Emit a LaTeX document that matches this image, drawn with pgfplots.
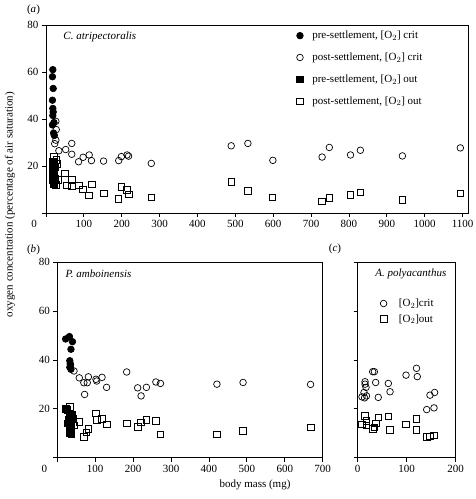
\documentclass[border=0pt]{standalone}
\usepackage{fontspec}
\setmainfont{Liberation Serif}
\usepackage{pgfplots}
\pgfplotsset{compat=1.18}
\pgfplotsset{
  base/.style={
    scale only axis,
    xmin=0, ymin=0, ymax=80,
    axis line style={line width=0.8pt},
    tick style={black, line width=0.8pt},
    major tick length=4pt,
    tick align=outside,
    tick pos=left,
    ytick={0,20,40,60,80},
    /pgf/number format/assume math mode=true,
    /pgf/number format/1000 sep={},
    tick label style={font=\fontsize{11}{13}\selectfont},
    every axis plot/.append style={only marks, mark size=3.3pt, line width=0.7pt},
    clip=false,
  },
  fc/.style={mark=*, mark options={fill=black, draw=black}},
  oc/.style={mark=o, mark options={draw=black}},
  fs/.style={mark=square*, mark options={fill=black, draw=black}},
  os/.style={mark=square, mark options={draw=black}},
}
\begin{document}
\begin{tikzpicture}[x=1pt,y=1pt]
\useasboundingbox (0,0) rectangle (475,499);
% panel (a)
\begin{axis}[base,
  at={(46pt,286pt)}, anchor=south west,
  width=422.3pt, height=188pt,
  xmax=1115,
  xtick={100,200,...,1100},
  yticklabels={,20,40,60,80},
  extra x ticks={0}, extra x tick labels={0},
  extra x tick style={tick label style={xshift=-12pt}},
  legend style={at={(0.586,0.99)}, anchor=north west, draw=none, fill=none,
    font=\fontsize{11}{13}\selectfont, row sep=8.7pt, column sep=7pt, legend cell align=left},
]
\addplot[fc] coordinates {(18,61)(17,58)(19,53)(17,48)(18,44.5)(19,43)(18,41.5)(21,38.5)(17,37.5)(20,34)(22,33)};
\addlegendentry{pre-settlement, [O$_2$] crit}
\addplot[oc] coordinates {(26,39)(27,35.5)(26,31)(23,29.5)(34,26.5)(52,27)(68,29.6)(68,25)(86,21.8)(98,23.7)(114,24.7)(120,22.3)(152,22.1)(192,22.3)(199,24)(214,24.7)(218,24.2)(278,21.1)(489,28.6)(533,29.6)(599,22.4)(729,23.8)(748,27.9)(804,24.7)(830,26.7)(941,24.3)(1094,27.7)};
\addlegendentry{post-settlement, [O$_2$] crit}
\addplot[fs] coordinates {(18,21)(20,20)(17,19)(22,18.5)(19,18)(21,17)(18,16)(20,15)(23,14.5)(17,14)(19,13)(21,12.5)(24,19.5)(22,21.5)(18,22)};
\addlegendentry{pre-settlement, [O$_2$] out}
\addplot[os] coordinates {(20,24)(27,22.5)(28,20.8)(26,12)(33,14)(49,16.9)(55,11.8)(68,14)(68,11.5)(86,11.8)(97,10.1)(113,7.5)(121,12.2)(152,8.4)(191,6.1)(199,11.2)(214,9.8)(218,8)(278,6.7)(489,13.2)(533,9.4)(598,6.7)(729,5)(748,6.4)(804,7.8)(830,8.8)(941,5.7)(1094,8.4)};
\addlegendentry{post-settlement, [O$_2$] out}
\node[anchor=west, font=\fontsize{11}{13}\selectfont\itshape] at (rel axis cs:0.033,0.935) {C. atripectoralis};
\end{axis}
% panel (b)
\begin{axis}[base,
  at={(57.3pt,41.3pt)}, anchor=south west,
  width=265.4pt, height=195.4pt,
  xmax=700,
  xtick={100,200,...,700},
  yticklabels={,20,40,60,80},
  extra x ticks={0}, extra x tick labels={0},
  extra x tick style={tick label style={xshift=-13pt}},
]
\addplot[fc] coordinates {(22,48.6)(32,49.6)(40,47.5)(36,44.4)(33,39.7)(34,38.5)(35,37.9)(36,36.2)(33,37)};
\addplot[oc] coordinates {(44,35.5)(58,32.7)(70,30.7)(72,25.9)(79,30.7)(82,33.1)(102,32.1)(104,31.4)(118,32.9)(130,28.8)(183,35.1)(212,28.6)(221,25.3)(235,28.8)(260,31)(272,30.4)(421,30.1)(490,30.8)(668,30)};
\addplot[fs] coordinates {(22,20)(27,19.5)(33,18)(36,17)(38,16.5)(30,15.5)(34,14.5)(28,14)(36,13)(32,12)(35,11)(33,10)(37,9.8)(40,17.5)(42,16)};
\addplot[os] coordinates {(33,20.8)(44,13.3)(58,14.7)(70,8.5)(77,10.3)(82,11.7)(102,18.1)(104,15.4)(118,15.8)(130,13.6)(183,14)(212,12.6)(221,14.4)(235,15.4)(260,15.1)(272,9.5)(421,9.6)(490,11.1)(668,12.4)};
\node[anchor=west, font=\fontsize{11}{13}\selectfont\itshape] at (rel axis cs:0.018,0.943) {P. amboinensis};
\end{axis}
% panel (c)
\begin{axis}[base,
  at={(357.7pt,41.3pt)}, anchor=south west,
  width=98pt, height=195.4pt,
  xmax=200,
  xtick={0,100,200},
  yticklabels={,,,,},
  legend style={at={(0.198,0.834)}, anchor=north west, draw=none, fill=none,
    font=\fontsize{11}{13}\selectfont, row sep=2.5pt, column sep=10pt, legend cell align=left},
]
\addplot[oc] coordinates {(8.8,24.9)(12.9,26.7)(15,31.1)(15,30.1)(17,28.8)(18,25.3)(14,24.5)(30.6,35.2)(34,35.2)(36.7,30.8)(42,24.7)(62.5,30.4)(66,27)(98.6,33.8)(120,36.6)(121.6,33.2)(140.8,19.7)(147.5,25.6)(155.7,20.4)(157,26.7)};
\addlegendentry{[O$_2$]crit}
\addplot[os] coordinates {(8.4,13.7)(15,17.1)(18,15.1)(18,13.3)(30.6,11.9)(34,12.4)(36.7,14)(42,16.5)(62.5,17)(66,11.3)(98.6,13.7)(120,15.8)(120,11.3)(140.8,8.5)(147.5,8.8)(155.7,9.2)};
\addlegendentry{[O$_2$]out}
\node[anchor=east, font=\fontsize{11}{13}\selectfont\itshape] at (rel axis cs:0.94,0.943) {A. polyacanthus};
\end{axis}
\node[font=\fontsize{11}{13}\selectfont] at (33.5,489) {(\textit{a})};
\node[font=\fontsize{11}{13}\selectfont] at (33.5,249.5) {(\textit{b})};
\node[font=\fontsize{11}{13}\selectfont] at (335,250) {(\textit{c})};
\node[rotate=90, font=\fontsize{11}{13}\selectfont] at (10,294.5) {oxygen concentration (percentage of air saturation)};
\node[font=\fontsize{11}{13}\selectfont] at (255,14) {body mass (mg)};
\end{tikzpicture}
\end{document}
